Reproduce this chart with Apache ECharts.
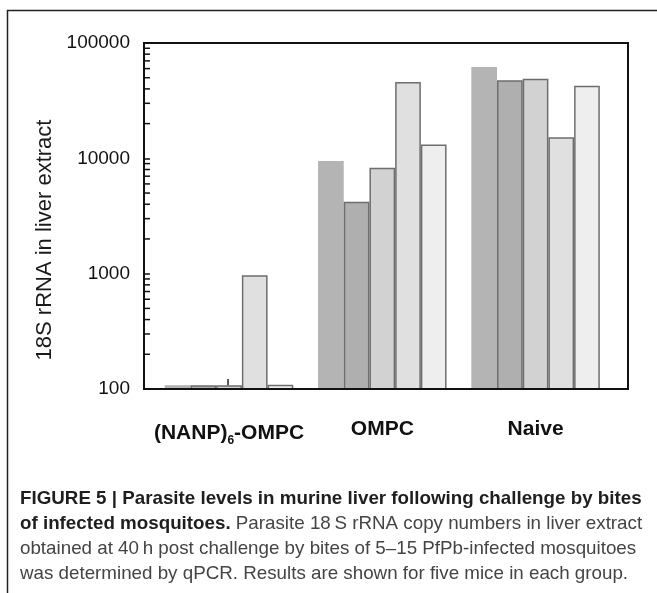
<!DOCTYPE html>
<html>
<head>
<meta charset="utf-8">
<script src="https://cdn.jsdelivr.net/npm/echarts@6/dist/echarts.min.js"></script>
<style>
  html, body { margin: 0; padding: 0; background: #fff; }
  #chart { width: 657px; height: 593px; }
</style>
</head>
<body>
<div id="chart"></div>
<script>
// groups and the five mice of each group (18S rRNA copies)
const groups = ['(NANP)6-OMPC', 'OMPC', 'Naive'];
const mouse1 = [108, 9500, 62000];
const mouse2 = [108, 4200, 47500];
const mouse3 = [108, 8300, 49000];
const mouse4 = [970, 46000, 15200];
const mouse5 = [109, 13200, 42500];
// small mark sitting on the third NANP bar: [group, from, to]
const spike = [[0, 108, 122]];
const minorTicks = [200, 300, 400, 500, 600, 700, 800, 900,
  2000, 3000, 4000, 5000, 6000, 7000, 8000, 9000,
  20000, 30000, 40000, 50000, 60000, 70000, 80000, 90000];
const captionLines = [
  [['b', 'FIGURE 5 | Parasite levels in murine liver following challenge by bites']],
  [['b', 'of infected mosquitoes.'], ['r', ' Parasite 18\u2009S rRNA copy numbers in liver extract']],
  [['r', 'obtained at 40\u2009h post challenge by bites of 5\u201315 PfPb-infected mosquitoes']],
  [['r', 'was determined by qPCR. Results are shown for five mice in each group.']]
];

const barColors = ['#b4b4b4', '#afafaf', '#d2d2d2', '#e0e0e0', '#eeeeee'];
const font = '"Liberation Sans", Arial, sans-serif';
const capFont = '"Liberation Sans Narrow", "Liberation Sans", Arial, sans-serif';

// fit caption size so the first (bold) line spans the text block width
const ctx = document.createElement('canvas').getContext('2d');
ctx.font = 'bold 100px ' + capFont;
const capSize = Math.min(19, 100 * 622 / ctx.measureText(captionLines[0][0][1]).width);

const chart = echarts.init(document.getElementById('chart'));

const barSeries = [mouse1, mouse2, mouse3, mouse4, mouse5].map((d, i) => ({
  type: 'bar',
  name: 'Mouse ' + (i + 1),
  xAxisIndex: 0,
  yAxisIndex: 0,
  data: d,
  barWidth: 25.7,
  barGap: '0%',
  itemStyle: {
    color: barColors[i],
    borderColor: i === 0 ? barColors[0] : '#6e6e6e',
    borderWidth: i === 0 ? 0 : 1.5
  }
}));

const option = {
  animation: false,
  backgroundColor: '#fff',
  grid: [
    { left: 152.4, top: 43, width: 459.8, height: 346 },
    { left: 144, top: 43, width: 484, height: 346, show: true,
      borderColor: '#111', borderWidth: 2, backgroundColor: 'transparent' }
  ],
  xAxis: [
    {
      type: 'category', gridIndex: 0, data: groups,
      axisLine: { show: false }, axisTick: { show: false },
      axisLabel: {
        interval: 0, margin: 30, color: '#111', fontFamily: font, fontWeight: 'bold', fontSize: 21,
        formatter: v => v.replace(')6', '){sub|6}'),
        rich: { sub: { fontFamily: font, fontWeight: 'bold', fontSize: 12,
          verticalAlign: 'bottom', padding: [16, 0, 0, 0] } }
      }
    },
    {
      type: 'value', gridIndex: 1, min: 0, max: 1, z: 10,
      axisLine: { show: true, lineStyle: { color: '#111', width: 2 } },
      axisTick: { show: false }, axisLabel: { show: false }, splitLine: { show: false }
    }
  ],
  yAxis: [
    { type: 'log', gridIndex: 0, min: 100, max: 100000, show: false },
    {
      type: 'log', gridIndex: 1, min: 100, max: 100000, z: 10,
      axisLine: { show: true, lineStyle: { color: '#111', width: 2 } },
      axisTick: { show: true, inside: true, length: 6, lineStyle: { color: '#111', width: 1.5 } },
      axisLabel: { margin: 14, color: '#111', fontFamily: font, fontSize: 19,
        formatter: v => String(Math.round(v)) },
      splitLine: { show: false }
    }
  ],
  series: barSeries.concat([
    {
      type: 'custom', xAxisIndex: 1, yAxisIndex: 1, z: 10, silent: true,
      data: minorTicks.map(v => [0, v]),
      renderItem: (params, api) => {
        const p = api.coord([0, api.value(1)]);
        return { type: 'line', shape: { x1: p[0], y1: p[1], x2: p[0] + 6, y2: p[1] },
          style: { stroke: '#111', lineWidth: 1.5 } };
      }
    },
    {
      type: 'custom', xAxisIndex: 0, yAxisIndex: 0, z: 10, silent: true,
      data: spike,
      renderItem: (params, api) => {
        const a = api.coord([api.value(0), api.value(1)]);
        const b = api.coord([api.value(0), api.value(2)]);
        return { type: 'line', shape: { x1: a[0] - 1, y1: a[1], x2: b[0] - 1, y2: b[1] },
          style: { stroke: '#222', lineWidth: 1.5 } };
      }
    }
  ]),
  graphic: [
    { type: 'rect', shape: { x: 7.5, y: 10.5, width: 800, height: 800 },
      style: { fill: 'none', stroke: '#222', lineWidth: 1.5 }, silent: true },
    { type: 'text', x: 45, y: 240, rotation: Math.PI / 2,
      style: { text: '18S rRNA in liver extract', fontFamily: font, fontSize: 22,
        fill: '#1a1a1a', align: 'center', verticalAlign: 'middle',
        textAlign: 'center', textVerticalAlign: 'middle' } },
    { type: 'text', x: 20, y: 486,
      style: {
        text: captionLines.map(l => l.map(s => '{' + s[0] + '|' + s[1] + '}').join('')).join('\n'),
        align: 'left', verticalAlign: 'top',
        rich: {
          b: { fontFamily: capFont, fontWeight: 'bold', fontSize: capSize, fill: '#1e1e1e', lineHeight: 25 },
          r: { fontFamily: capFont, fontSize: capSize, fill: '#444', lineHeight: 25 }
        }
      } }
  ]
};

chart.setOption(option);
</script>
</body>
</html>
